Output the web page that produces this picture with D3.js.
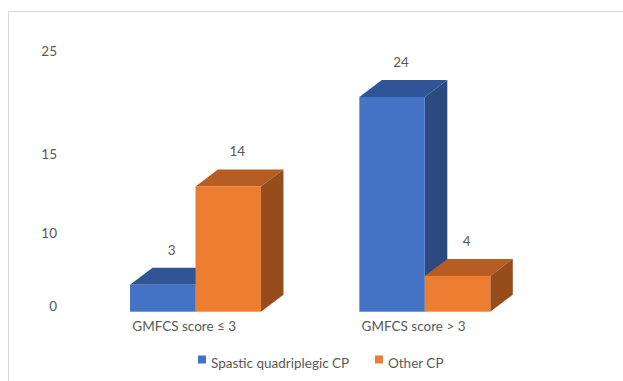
<!DOCTYPE html>
<html>
<head>
<meta charset="utf-8">
<script src="https://cdn.jsdelivr.net/npm/d3@7"></script>
<style>
html,body{margin:0;padding:0;background:#fff;}
svg{display:block;}
text{font-family:Lato,"Open Sans",sans-serif;fill:#595959;}
</style>
</head>
<body>
<svg id="chart" width="623" height="381"></svg>
<script>
const categories = ["GMFCS score \u2264 3", "GMFCS score > 3"];
const seriesNames = ["Spastic quadriplegic CP", "Other CP"];
const spasticValues = [3, 24];
const otherValues = [14, 4];
const yTickLabels = [25, 15, 10, 0];
// positions of the (non-uniform) tick labels as printed in the original
const yTickAnchors = [0, 10, 15, 25];

const W = 623, H = 381;
const svg = d3.select("#chart");

const colors = {
  front: ["#4472C4", "#ED7D31"],
  top:   ["#2F5597", "#B65D22"],
  side:  ["#2B4A7F", "#974C1C"]
};

const baseY = 311.7;
const y = d3.scaleLinear().domain([0, 25]).range([baseY, baseY - 25 * 8.95]);
// label axis: printed labels are not evenly spaced in the source
const yLab = d3.scaleLinear().domain(yTickAnchors).range([306, 233.3, 154, 51]);

const x0 = d3.scaleBand().domain(categories).range([70, 550.3]).paddingInner(0.429).paddingOuter(0.2617);
const x1 = d3.scaleBand().domain(seriesNames).range([0, x0.bandwidth()]).padding(0);

const dx = 22.5, dy = 17;

// frame
svg.append("line").attr("x1", 8.5).attr("x2", 8.5).attr("y1", 11.5).attr("y2", H).attr("stroke", "#d9d9d9");
svg.append("line").attr("x1", 8.5).attr("x2", W).attr("y1", 11.5).attr("y2", 11.5).attr("stroke", "#d9d9d9");

// y labels
svg.append("g").selectAll("text").data(yTickLabels).join("text")
  .attr("x", 57).attr("y", d => yLab(d)).attr("dy", "0.35em")
  .attr("text-anchor", "end").attr("font-size", 13.5).text(d => d);

const data = [];
categories.forEach((c, i) => {
  data.push({cat: c, s: 0, v: spasticValues[i]});
  data.push({cat: c, s: 1, v: otherValues[i]});
});

const bars = svg.append("g");
data.forEach(d => {
  const xl = x0(d.cat) + x1(seriesNames[d.s]);
  const xr = xl + x1.bandwidth();
  const yt = y(d.v), yb = y(0);
  const g = bars.append("g");
  // top face
  g.append("path").attr("fill", colors.top[d.s])
    .attr("d", `M${xl},${yt}L${xl+dx},${yt-dy}L${xr+dx},${yt-dy}L${xr},${yt}Z`);
  // right side face
  g.append("path").attr("fill", colors.side[d.s])
    .attr("d", `M${xr},${yt}L${xr+dx},${yt-dy}L${xr+dx},${yb-dy}L${xr},${yb}Z`);
  // front face
  g.append("rect").attr("x", xl).attr("y", yt).attr("width", xr - xl).attr("height", yb - yt)
    .attr("fill", colors.front[d.s]);
});

// value labels
svg.append("g").selectAll("text").data(data).join("text")
  .attr("x", d => x0(d.cat) + x1(seriesNames[d.s]) + x1.bandwidth() / 2 + 9)
  .attr("y", d => y(d.v) - dy - 18).attr("dy", "0.35em")
  .attr("text-anchor", "middle").attr("font-size", 13.5).text(d => d.v);

// category labels
svg.append("g").selectAll("text").data(categories).join("text")
  .attr("x", d => x0(d) + x0.bandwidth() / 2 - dx / 2)
  .attr("y", 326).attr("dy", "0.35em")
  .attr("text-anchor", "middle").attr("font-size", 13.5).text(d => d);

// legend
const legend = svg.append("g");
const legX = [198, 375];
seriesNames.forEach((n, i) => {
  legend.append("rect").attr("x", legX[i]).attr("y", 355.5).attr("width", 8).attr("height", 8).attr("fill", colors.front[i]);
  legend.append("text").attr("x", legX[i] + 13).attr("y", 363).attr("dy", "0.35em")
    .attr("font-size", 13.5).text(n);
});
</script>
</body>
</html>
